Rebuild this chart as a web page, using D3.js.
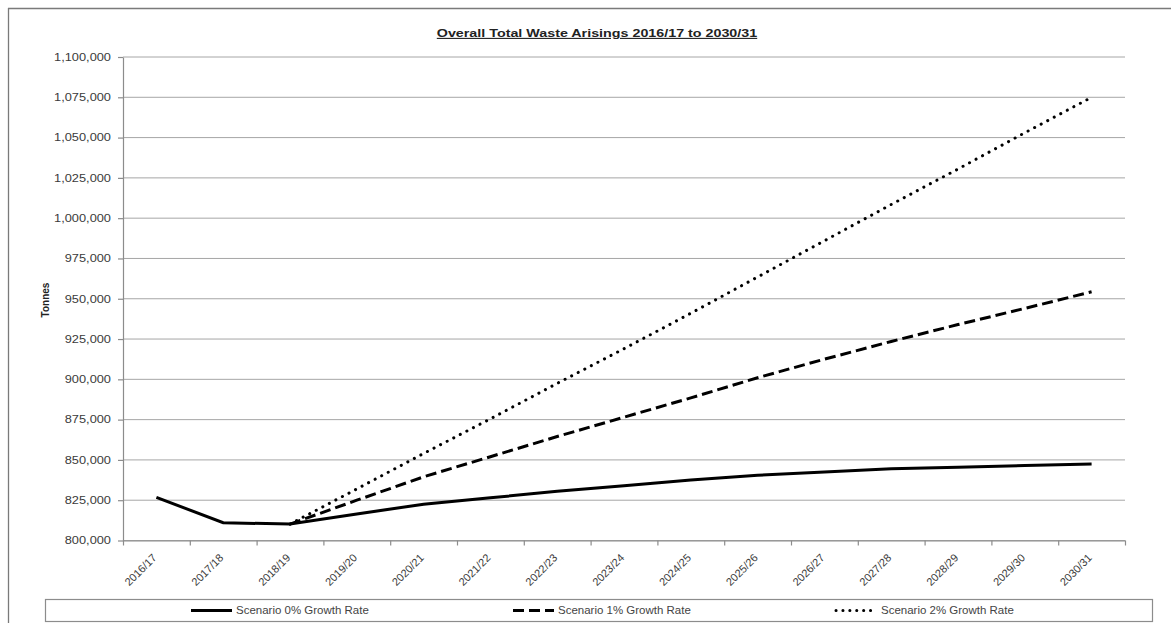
<!DOCTYPE html>
<html>
<head>
<meta charset="utf-8">
<script src="https://cdn.jsdelivr.net/npm/d3@7"></script>
<style>
  body { margin: 0; background: #fff; }
  svg { display: block; font-family: Arial, "Liberation Sans", sans-serif; }
  .grid line { stroke: #a6a6a6; stroke-width: 1; }
  .axis path, .axis line { stroke: #8c8c8c; stroke-width: 1.2; }
  .axis text { fill: #3a3a3a; font-size: 10.5px; }
  .xlabels text { fill: #3a3a3a; font-size: 11px; }
  .series { fill: none; stroke: #000; stroke-width: 3; }
</style>
</head>
<body>
<script>
(function(){

    //chart data
    var years = ["2016/17", "2017/18", "2018/19", "2019/20", "2020/21", "2021/22", "2022/23",
        "2023/24", "2024/25", "2025/26", "2026/27", "2027/28", "2028/29", "2029/30", "2030/31"];
    var growth0 = [826800, 811000, 810200, 816500, 822500, 826500, 830500, 834000,
        837500, 840500, 842500, 844500, 845500, 846500, 847500];
    var growth1 = [null, null, 810200, 825000, 839500, 852000, 864500, 876500,
        888500, 901000, 912500, 923500, 934000, 944000, 954300];
    var growth2 = [null, null, 810200, 832000, 854000, 875500, 897500, 919000,
        941000, 963500, 986000, 1008500, 1030500, 1053000, 1075000];
    var seriesNames = ["Scenario 0% Growth Rate", "Scenario 1% Growth Rate", "Scenario 2% Growth Rate"];
    var yTicks = [800000, 825000, 850000, 875000, 900000, 925000, 950000, 975000,
        1000000, 1025000, 1050000, 1075000, 1100000];

    var dashes = ["none", "11,5", "0.1,7.3"];

    var width = 1171, height = 623;
    var left = 123, right = 1125, top = 57, bottom = 540.5;

    var svg = d3.select("body").append("svg")
        .attr("width", width)
        .attr("height", height);

    //outer frame (top and left edges only visible)
    svg.append("line").attr("x1", 8).attr("x2", width).attr("y1", 8.5).attr("y2", 8.5)
        .attr("stroke", "#7a7a7a").attr("stroke-width", 1.3);
    svg.append("line").attr("x1", 8.5).attr("x2", 8.5).attr("y1", 8).attr("y2", height)
        .attr("stroke", "#7a7a7a").attr("stroke-width", 1.3);

    var x = d3.scaleBand().domain(years).range([left, right]);
    var xEdge = d3.scaleLinear().domain([0, years.length]).range([left, right]);
    var y = d3.scaleLinear().domain([800000, 1100000]).range([bottom, top]);

    //horizontal gridlines
    svg.append("g").attr("class", "grid")
        .selectAll("line")
        .data(yTicks)
        .enter()
        .append("line")
        .attr("x1", left).attr("x2", right)
        .attr("y1", function(d){ return y(d); })
        .attr("y2", function(d){ return y(d); });

    //y axis
    var yAxis = svg.append("g").attr("class", "axis")
        .attr("transform", "translate(" + left + ",0)")
        .call(d3.axisLeft(y).tickValues(yTicks).tickSize(5).tickSizeOuter(0)
            .tickFormat(d3.format(",")));
    //the source image is stretched sideways, so widen the labels a bit
    yAxis.selectAll("text")
        .attr("x", 0)
        .attr("transform", "translate(-12,0) scale(1.22,1)");

    //x axis: tick marks on category edges
    svg.append("g").attr("class", "axis")
        .attr("transform", "translate(0," + bottom + ")")
        .call(d3.axisBottom(xEdge).tickValues(d3.range(years.length + 1)).tickSize(5)
            .tickSizeOuter(0).tickFormat(""));

    //x axis labels rotated
    svg.append("g").attr("class", "xlabels")
        .selectAll("text")
        .data(years)
        .enter()
        .append("text")
        .attr("text-anchor", "end")
        .attr("transform", function(d){
            return "translate(" + (x(d) + x.bandwidth() / 2 + 1) + "," + (bottom + 18) + ") rotate(-45)";
        })
        .text(function(d){ return d; });

    //lines
    var line = d3.line()
        .defined(function(d){ return d != null; })
        .x(function(d, i){ return x(years[i]) + x.bandwidth() / 2; })
        .y(function(d){ return y(d); });

    [growth2, growth1, growth0].forEach(function(s, k){
        var idx = 2 - k;
        svg.append("path")
            .datum(s)
            .attr("class", "series")
            .attr("d", line)
            .attr("stroke-dasharray", dashes[idx])
            .attr("stroke-linecap", idx == 2 ? "round" : "butt")
            .attr("stroke-width", idx == 2 ? 3.4 : 3);
    });

    //title
    svg.append("text")
        .attr("transform", "translate(597,37) scale(1.3,1)")
        .attr("text-anchor", "middle")
        .attr("font-size", "11px")
        .attr("font-weight", "bold")
        .attr("fill", "#222")
        .attr("text-decoration", "underline")
        .text("Overall Total Waste Arisings 2016/17 to 2030/31");

    //y axis title
    svg.append("text")
        .attr("transform", "translate(49,300) rotate(-90)")
        .attr("text-anchor", "middle")
        .attr("font-size", "10px")
        .attr("font-weight", "bold")
        .attr("fill", "#222")
        .text("Tonnes");

    //legend
    var legend = svg.append("g");
    legend.append("rect")
        .attr("x", 45.5).attr("y", 599.5)
        .attr("width", 1107).attr("height", 22)
        .attr("fill", "#fff").attr("stroke", "#8c8c8c").attr("stroke-width", 1.2);

    var legendX = [191, 513, 836];
    seriesNames.forEach(function(name, i){
        legend.append("line")
            .attr("x1", legendX[i]).attr("x2", legendX[i] + 41)
            .attr("y1", 610.5).attr("y2", 610.5)
            .attr("stroke", "#000")
            .attr("stroke-width", 3)
            .attr("stroke-dasharray", dashes[i] == "none" ? null : (i == 2 ? "0.1,6.8" : dashes[i]))
            .attr("stroke-linecap", i == 2 ? "round" : "butt");
        legend.append("text")
            .attr("transform", "translate(" + (legendX[i] + 45) + ",614) scale(1.15,1)")
            .attr("font-size", "10px")
            .attr("fill", "#444")
            .text(name);
    });

})();
</script>
</body>
</html>
